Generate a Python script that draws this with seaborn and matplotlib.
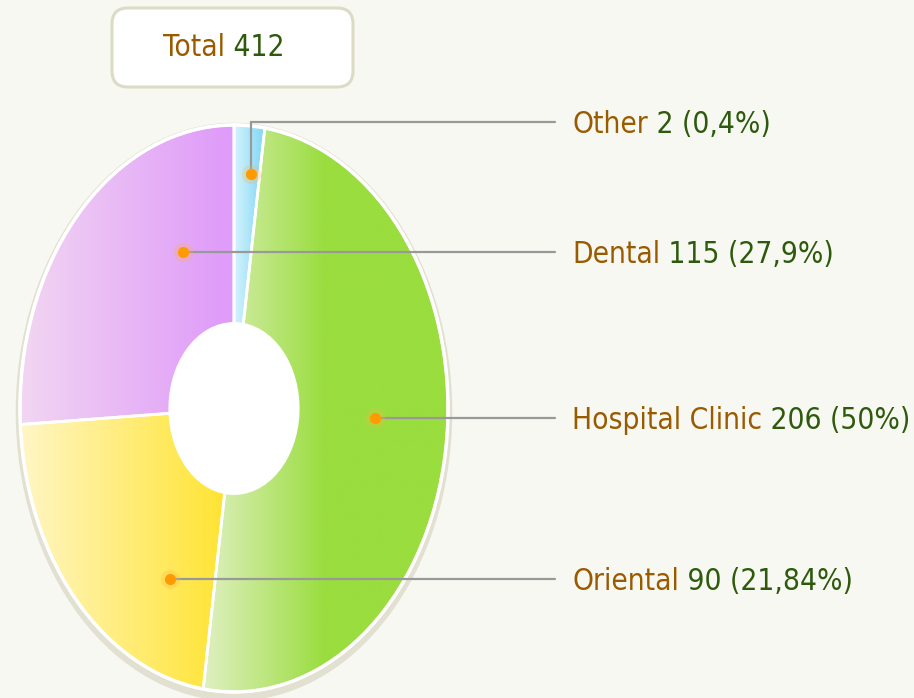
import numpy as np
import matplotlib
matplotlib.use('Agg')
import matplotlib.pyplot as plt
import seaborn as sns
from matplotlib.patches import Circle, FancyBboxPatch
from matplotlib.colors import to_rgb

# dados do grafico
categorias = ['Other', 'Hospital Clinic', 'Oriental', 'Dental']
contagens = [2, 206, 90, 115]
percentuais = ['0,4%', '50%', '21,84%', '27,9%']
fatia_desenhada = [2.3, 50.0, 21.8, 25.9]   # tamanho visivel de cada fatia
total = 412

cor_clara = ['#d6f3fc', '#e0f0c2', '#fff6c6', '#f2d6f2']
cor_forte = ['#7fd6f6', '#9add3e', '#ffe433', '#df9cf9']
fim_rampa = [1.0, 0.5, 1.0, 0.95]

# posicao dos pontos laranja dentro de cada fatia
ancora_frac = [0.65, 0.47, 0.23, 0.75]
ancora_raio = [0.83, 0.66, 0.67, 0.6]

MARROM = '#9a5a00'
VERDE = '#2e5a0e'
FUNDO = '#f8f8f2'

sns.set_theme(style='white')
plt.rcParams['font.family'] = ['DejaVu Sans']
plt.rcParams['font.stretch'] = 'condensed'

fig = plt.figure(figsize=(9.14, 6.98), dpi=100, facecolor=FUNDO)

# eixo de fundo em pixels (caixa do total)
ax_bg = fig.add_axes([0, 0, 1, 1], zorder=0)
ax_bg.set_xlim(0, 914)
ax_bg.set_ylim(698, 0)
ax_bg.axis('off')

# eixo da pizza (elipse)
cx, cy, rx, ry = 234, 408.5, 214, 283.5
m = 1.05
ax = fig.add_axes([(cx - rx * m) / 914, (698 - cy - ry * m) / 698,
                   2 * rx * m / 914, 2 * ry * m / 698], zorder=1)
ax.patch.set_alpha(0)

wedges, _ = ax.pie(fatia_desenhada, startangle=90, counterclock=False, radius=1,
                   wedgeprops=dict(width=0.7, edgecolor='white', linewidth=2))

ax.add_patch(Circle((0, -0.012), 1.02, fc='#dcdbc9', ec='none', alpha=0.8, zorder=0))

t = np.linspace(0, 1, 256)
for w, c0, c1, r in zip(wedges, cor_clara, cor_forte, fim_rampa):
    ext = w.get_path().get_extents()
    s = np.clip(t / r, 0, 1)
    rgb = (1 - s)[:, None] * np.array(to_rgb(c0)) + s[:, None] * np.array(to_rgb(c1))
    im = ax.imshow(rgb[None, :, :], extent=[ext.x0, ext.x1, ext.y0, ext.y1],
                   aspect='auto', interpolation='bilinear', zorder=1)
    im.set_clip_path(w)
    w.set_facecolor('none')
    w.set_zorder(2)

ax.add_patch(Circle((0, 0), 1.0, fill=False, ec='white', lw=2.5, zorder=3))
ax.add_patch(Circle((0, 0), 0.3, fc='white', ec='none', zorder=3))
ax.set_xlim(-m, m)
ax.set_ylim(-m, m)
ax.set_aspect('auto')
ax.axis('off')

# eixo de cima para pontos, linhas e textos (pixels)
ax_top = fig.add_axes([0, 0, 1, 1], zorder=2)
ax_top.set_xlim(0, 914)
ax_top.set_ylim(698, 0)
ax_top.axis('off')
ax_top.patch.set_alpha(0)

# ajusta o tamanho da fonte para o rotulo mais longo caber em ~338 px
renderer = fig.canvas.get_renderer()
teste = ax_top.text(0, 0, 'Hospital Clinic 206 (50%)', fontsize=20)
largura = teste.get_window_extent(renderer).width
teste.remove()
fs = 20 * 338 / largura
cap = 0.73 * fs * 100 / 72

# caixa do total
ax_bg.add_patch(FancyBboxPatch((112, 8), 241, 79, boxstyle='round,pad=0,rounding_size=16',
                               fc='white', ec='#dcdcc6', lw=2.2))
t1 = ax_top.text(163, 45 + cap / 2, 'Total', color=MARROM, fontsize=fs, va='baseline', ha='left')
ax_top.annotate(f' {total}', xy=(1, 0), xycoords=t1, color=VERDE, fontsize=fs,
                va='bottom', ha='left')

x_linha = 555
x_texto = 572
inv = ax_top.transData.inverted()
for i, w in enumerate(wedges):
    ang = np.deg2rad(w.theta2 - ancora_frac[i] * (w.theta2 - w.theta1))
    px, py = inv.transform(ax.transData.transform((ancora_raio[i] * np.cos(ang),
                                                   ancora_raio[i] * np.sin(ang))))
    y_rot = 122 if categorias[i] == 'Other' else py
    ax_top.plot([px, px, x_linha], [py, y_rot, y_rot], color='#999999', lw=1.6,
                solid_joinstyle='miter', zorder=3)
    ax_top.plot(px, py, 'o', ms=14, color='#ffb347', alpha=0.25, mec='none', zorder=4)
    ax_top.plot(px, py, 'o', ms=8, color='#ff9a00', mec='none', zorder=5)
    t_nome = ax_top.text(x_texto, y_rot + cap / 2, categorias[i], color=MARROM, fontsize=fs,
                         va='baseline', ha='left')
    ax_top.annotate(f' {contagens[i]} ({percentuais[i]})', xy=(1, 0), xycoords=t_nome,
                    color=VERDE, fontsize=fs, va='bottom', ha='left')

plt.savefig('out.png', dpi=100, facecolor=FUNDO)
